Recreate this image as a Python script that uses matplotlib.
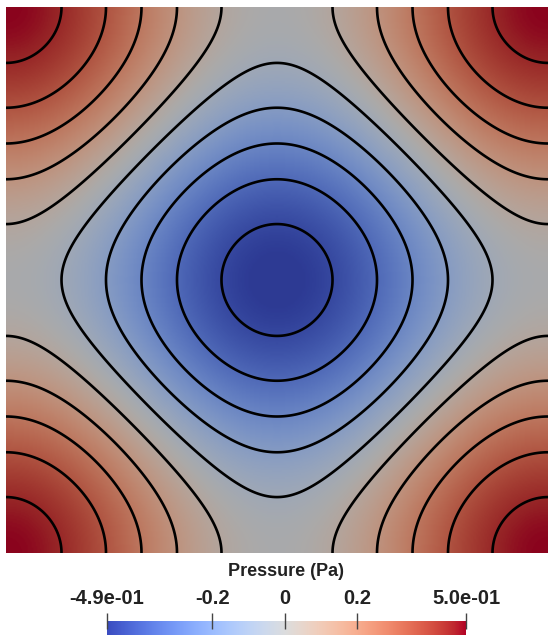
import numpy as np
import matplotlib
matplotlib.use("Agg")
import matplotlib.pyplot as plt
from matplotlib.colors import ListedColormap, Normalize

#%% data
# pressure range shown on the colour bar
p_min = -0.49
p_max = 0.50
# contour values
levels = [-0.45, -0.35, -0.25, -0.15, -0.05, 0.05, 0.15, 0.25, 0.35, 0.45]
# colour bar ticks
cbar_ticks = [-0.49, -0.2, 0.0, 0.2, 0.5]
cbar_labels = ["-4.9e-01", "-0.2", "0", "0.2", "5.0e-01"]

# pressure field on the unit square (Taylor-Green type)
n = 400
x = np.linspace(0, 1, n)
y = np.linspace(0, 1, n)
X, Y = np.meshgrid(x, y)
P = (np.cos(2 * np.pi * X) + np.cos(2 * np.pi * Y)) / 4

#%% colours
base = plt.get_cmap("coolwarm")
shade = 0.77  # rendered surface is darker than the legend
field_cmap = ListedColormap(base(np.linspace(0, 1, 256))[:, :3] * shade)
norm = Normalize(vmin=p_min, vmax=p_max)

#%% plot
W, H = 548, 635
fig = plt.figure(figsize=(W / 100, H / 100), dpi=100)

ax = fig.add_axes([6 / W, (H - 553) / H, 542 / W, 546 / H])
ax.imshow(P, cmap=field_cmap, norm=norm, origin="lower",
          extent=(0, 1, 0, 1), aspect="auto", interpolation="bilinear")
ax.contour(X, Y, P, levels=levels, colors="black", linewidths=1.9,
           linestyles="solid")
ax.set_xlim(0, 1)
ax.set_ylim(0, 1)
ax.axis("off")

# colour bar
cax = fig.add_axes([107 / W, 0, 359 / W, 14 / H])
grad = np.linspace(p_min, p_max, 512).reshape(1, -1)
cax.imshow(grad, cmap=base, norm=norm, aspect="auto",
           extent=(p_min, p_max, 0, 1))
cax.set_xlim(p_min, p_max)
cax.set_yticks([])
for s in cax.spines.values():
    s.set_visible(False)
cax.xaxis.set_ticks_position("top")
cax.set_xticks(cbar_ticks)
cax.set_xticklabels(cbar_labels, fontsize=14.5, fontweight="bold",
                    family="Liberation Sans", color="#222222")
cax.tick_params(axis="x", direction="inout", length=12, width=1,
                color="#444444", pad=3)
fig.text(286 / W, 1 - 572 / H, "Pressure (Pa)", ha="center", va="center",
         fontsize=13, fontweight="bold", family="Liberation Sans",
         color="#222222")

plt.savefig("out.png", dpi=100)
